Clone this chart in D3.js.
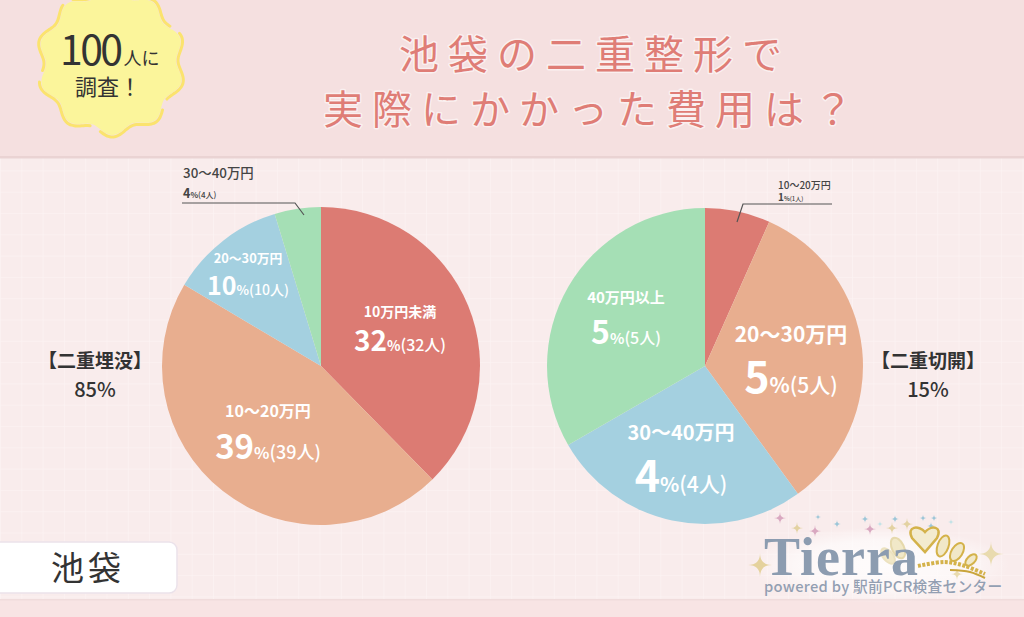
<!DOCTYPE html>
<html lang="ja"><head><meta charset="utf-8">
<script src="https://cdn.jsdelivr.net/npm/d3@7"></script>
<style>
html,body{margin:0;padding:0;background:#f9ecec;overflow:hidden}
svg{display:block}
text{font-family:"Noto Sans CJK JP","Noto Sans",sans-serif}
</style></head><body>
<svg id="c" width="1024" height="617" viewBox="0 0 1024 617"></svg>
<script>
const titleLines = ["池袋の二重整形で","実際にかかった費用は？"];
const leftCats = ["10万円未満","10〜20万円","20〜30万円","30〜40万円"];
const leftVals = [32,39,10,4];
const rightCats = ["10〜20万円","20〜30万円","30〜40万円","40万円以上"];
const rightVals = [1,5,4,5];
const colors = ["#dc7b73","#e8ae8f","#a4d0e0","#a5dfb5"];
const leftName = "【二重埋没】", leftTotal = "85%";
const rightName = "【二重切開】", rightTotal = "15%";
const areaName = "池袋";

const svg = d3.select("#c");
const defs = svg.append("defs");
const pat = defs.append("pattern").attr("id","grid").attr("width",21.3).attr("height",21.3).attr("patternUnits","userSpaceOnUse");
pat.append("path").attr("d","M21.3 0H0V21.3").attr("fill","none").attr("stroke","#fdf5f5").attr("stroke-width",1);
const glow = defs.append("radialGradient").attr("id","glow");
glow.append("stop").attr("offset","0%").attr("stop-color","#fff").attr("stop-opacity",.85);
glow.append("stop").attr("offset","65%").attr("stop-color","#fff").attr("stop-opacity",.6);
glow.append("stop").attr("offset","100%").attr("stop-color","#fff").attr("stop-opacity",0);

// backgrounds
svg.append("rect").attr("width",1024).attr("height",617).attr("fill","#f9ecec");
svg.append("rect").attr("width",1024).attr("height",617).attr("fill","url(#grid)");
svg.append("rect").attr("width",1024).attr("height",156).attr("fill","#f5e0e0");
svg.append("rect").attr("y",156).attr("width",1024).attr("height",2.5).attr("fill","#ead3d3");
svg.append("rect").attr("y",600).attr("width",1024).attr("height",17).attr("fill","#f8e4e4");
svg.append("rect").attr("y",599).attr("width",1024).attr("height",1.5).attr("fill","#f0dcdc");

// title
titleLines.forEach((t,i)=>{
  svg.append("text").attr("x",i?592.5:595).attr("y",i?124:69).attr("text-anchor","middle")
    .attr("font-size",40).attr("letter-spacing",9).attr("font-weight",400).text(t)
    .attr("fill","#df7d76").attr("stroke","#fff").attr("stroke-width",3).attr("paint-order","stroke")
    .attr("stroke-linejoin","round").attr("stroke-opacity",.55);
});

// badge
const n = 180, lobes = 10, rot = 0.2;
const wav = (r0,amp)=>d3.range(n).map(i=>{const a=i/n*2*Math.PI;return [a,r0+amp*Math.cos(lobes*a+rot)];});
const radial = d3.lineRadial().curve(d3.curveCardinalClosed);
const badge = svg.append("g").attr("transform","translate(111,62)");
badge.append("path").attr("d",radial(wav(69,4))).attr("fill","#fbf59b");
badge.append("path").attr("d",radial(wav(71,4))).attr("fill","none").attr("stroke","#fbe36e").attr("stroke-width",3)
  .attr("stroke-linecap","round").attr("stroke-dasharray","75 12");
const b1 = svg.append("text").attr("x",60).attr("y",65).attr("fill","#333");
b1.append("tspan").attr("font-size",41).attr("font-weight",400).attr("letter-spacing",-2.6).text("100");
b1.append("tspan").attr("font-size",18).attr("font-weight",400).attr("dx",3).text("人に");
svg.append("text").attr("x",108).attr("y",95).attr("text-anchor","middle").attr("fill","#333")
  .attr("font-size",22).attr("font-weight",400).text("調査！");

// pies
const pieGen = d3.pie().sort(null).startAngle(0).endAngle(2*Math.PI);
const color = d3.scaleOrdinal().domain([0,1,2,3]).range(colors);
function drawPie(vals,cx,cy,r){
  const arc = d3.arc().innerRadius(0).outerRadius(r);
  svg.append("g").attr("transform",`translate(${cx},${cy})`)
    .selectAll("path").data(pieGen(vals)).join("path")
    .attr("d",arc).attr("fill",(d,i)=>color(i));
}
drawPie(leftVals,321,366,159);
drawPie(rightVals,705,366,158);

// labels
function label(cat,val,x,y1,y2,fs,big,pct,ppl,col,anchor,w){
  const c = col||"#fff", a = anchor||"middle", wt = w||700;
  svg.append("text").attr("x",x).attr("y",y1).attr("text-anchor",a).attr("fill",c)
    .attr("font-size",fs).attr("font-weight",wt).text(cat);
  const t = svg.append("text").attr("x",x).attr("y",y2).attr("text-anchor",a).attr("fill",c).attr("font-weight",700);
  t.append("tspan").attr("font-size",big).text(val);
  t.append("tspan").attr("font-size",pct).text("%");
  t.append("tspan").attr("font-size",ppl).attr("font-weight",500).text(`(${val}人)`);
}
label(leftCats[0],leftVals[0],400,317,351,14,28,14,16);
label(leftCats[1],leftVals[1],268,417,459,16,33,16,18);
label(leftCats[2],leftVals[2],248,263,295,12.8,25,13,14);
label(rightCats[3],rightVals[3],626,303,344,15,32,15,16);
label(rightCats[1],rightVals[1],791,342,393,21,43,21,21);
label(rightCats[2],rightVals[2],681,440,492,20,43,20,21);
label(leftCats[3],leftVals[3],183,178,198,13.4,12.5,8,8,"#444","start",500);
label(rightCats[0],rightVals[0],778,189,201,10,10,6,6,"#444","start",500);

// callouts
const line = d3.line();
svg.append("path").attr("d",line([[182,203],[295,203],[304,215]])).attr("fill","none").attr("stroke","#555").attr("stroke-width",1.2);
svg.append("path").attr("d",line([[832,204],[743,204],[737,222]])).attr("fill","none").attr("stroke","#555").attr("stroke-width",1.2);

// side labels
[[95,leftName,leftTotal],[928,rightName,rightTotal]].forEach(([x,n,t])=>{
  svg.append("text").attr("x",x).attr("y",368).attr("text-anchor","middle").attr("fill","#333")
    .attr("font-size",19).attr("font-weight",700).text(n);
  svg.append("text").attr("x",x).attr("y",397).attr("text-anchor","middle").attr("fill","#333")
    .attr("font-size",20).attr("font-weight",500).text(t);
});

// area tag
svg.append("rect").attr("x",-12).attr("y",542).attr("width",189).attr("height",51).attr("rx",8)
  .attr("fill","#fff").attr("stroke","#ebe2ea").attr("stroke-width",1.5);
svg.append("text").attr("x",88).attr("y",580).attr("text-anchor","middle").attr("fill","#333")
  .attr("font-size",33).attr("letter-spacing",4).attr("font-weight",400).text(areaName);

// logo
const logo = svg.append("g");
logo.append("ellipse").attr("cx",880).attr("cy",565).attr("rx",130).attr("ry",38).attr("fill","url(#glow)");
const spark = (x,y,r,f)=>logo.append("path")
  .attr("d",`M${x} ${y-r}Q${x} ${y} ${x+r} ${y}Q${x} ${y} ${x} ${y+r}Q${x} ${y} ${x-r} ${y}Q${x} ${y} ${x} ${y-r}Z`)
  .attr("fill",f);
[[780,518,6,"#d9a8c0"],[797,528,6,"#e3d2a2"],[815,531,6,"#d9a8c0"],[818,517,3,"#9cc6d8"],[837,524,4,"#9cc6d8"],[865,519,4,"#9cc6d8"],[870,529,6,"#d9a8c0"],[880,524,3,"#bfe2e6"],[892,528,6,"#e3d2a2"],[895,519,4,"#9cc6d8"],[907,524,6,"#e3d2a2"],[923,518,3.5,"#9cc6d8"],[934,518,3.5,"#9cc6d8"],[931,526,4,"#9cc6d8"],[951,522,3,"#bfe2e6"],[920,532,5,"#d9a8c0"],[760,565,12,"#e5d29d"],[991,554,13,"#e9dbaf"],[957,574,6,"#e9dbaf"]]
  .forEach(d=>spark(...d));
// tiara
const tc = "#d4b24a";
const leaf = (cx,cy,rx,ry,rotDeg,stroke)=>logo.append("ellipse").attr("cx",cx).attr("cy",cy).attr("rx",rx).attr("ry",ry)
  .attr("transform",`rotate(${rotDeg} ${cx} ${cy})`).attr("fill","#f1e8c8").attr("stroke",stroke).attr("stroke-width",2);
leaf(898,548,6,11,-25,"#e6d9ac");
leaf(888,556,5,9,-40,"#ece2c0");
logo.append("path").attr("d","M912 538C906 526 919 525 925 532C931 525 943 526 937 538L925 552Z").attr("fill","#f3ebcf").attr("stroke",tc).attr("stroke-width",2.5);
leaf(943,546,5.5,11,20,tc);
leaf(957,552,5.5,10,32,tc);
leaf(971,560,4,7,45,tc);
logo.append("path").attr("d",d3.line().curve(d3.curveCatmullRom)([[918,566],[945,562],[965,566],[985,574]]))
  .attr("fill","none").attr("stroke",tc).attr("stroke-width",4).attr("stroke-dasharray","3 1.5");
logo.append("path").attr("d",d3.line().curve(d3.curveCatmullRom)([[950,570],[970,572],[985,578]]))
  .attr("fill","none").attr("stroke","#c9a53c").attr("stroke-width",2);
logo.append("text").attr("x",764).attr("y",575).attr("fill","#8c9cb0")
  .attr("font-weight",700).attr("font-size",54).attr("letter-spacing",1).attr("style","font-family:'Liberation Serif',serif").text("Tierra");
logo.append("text").attr("x",764).attr("y",592).attr("fill","#939fb2").attr("font-weight",500)
  .attr("font-size",14.7).attr("letter-spacing",.3).text("powered by 駅前PCR検査センター");
</script></body></html>
